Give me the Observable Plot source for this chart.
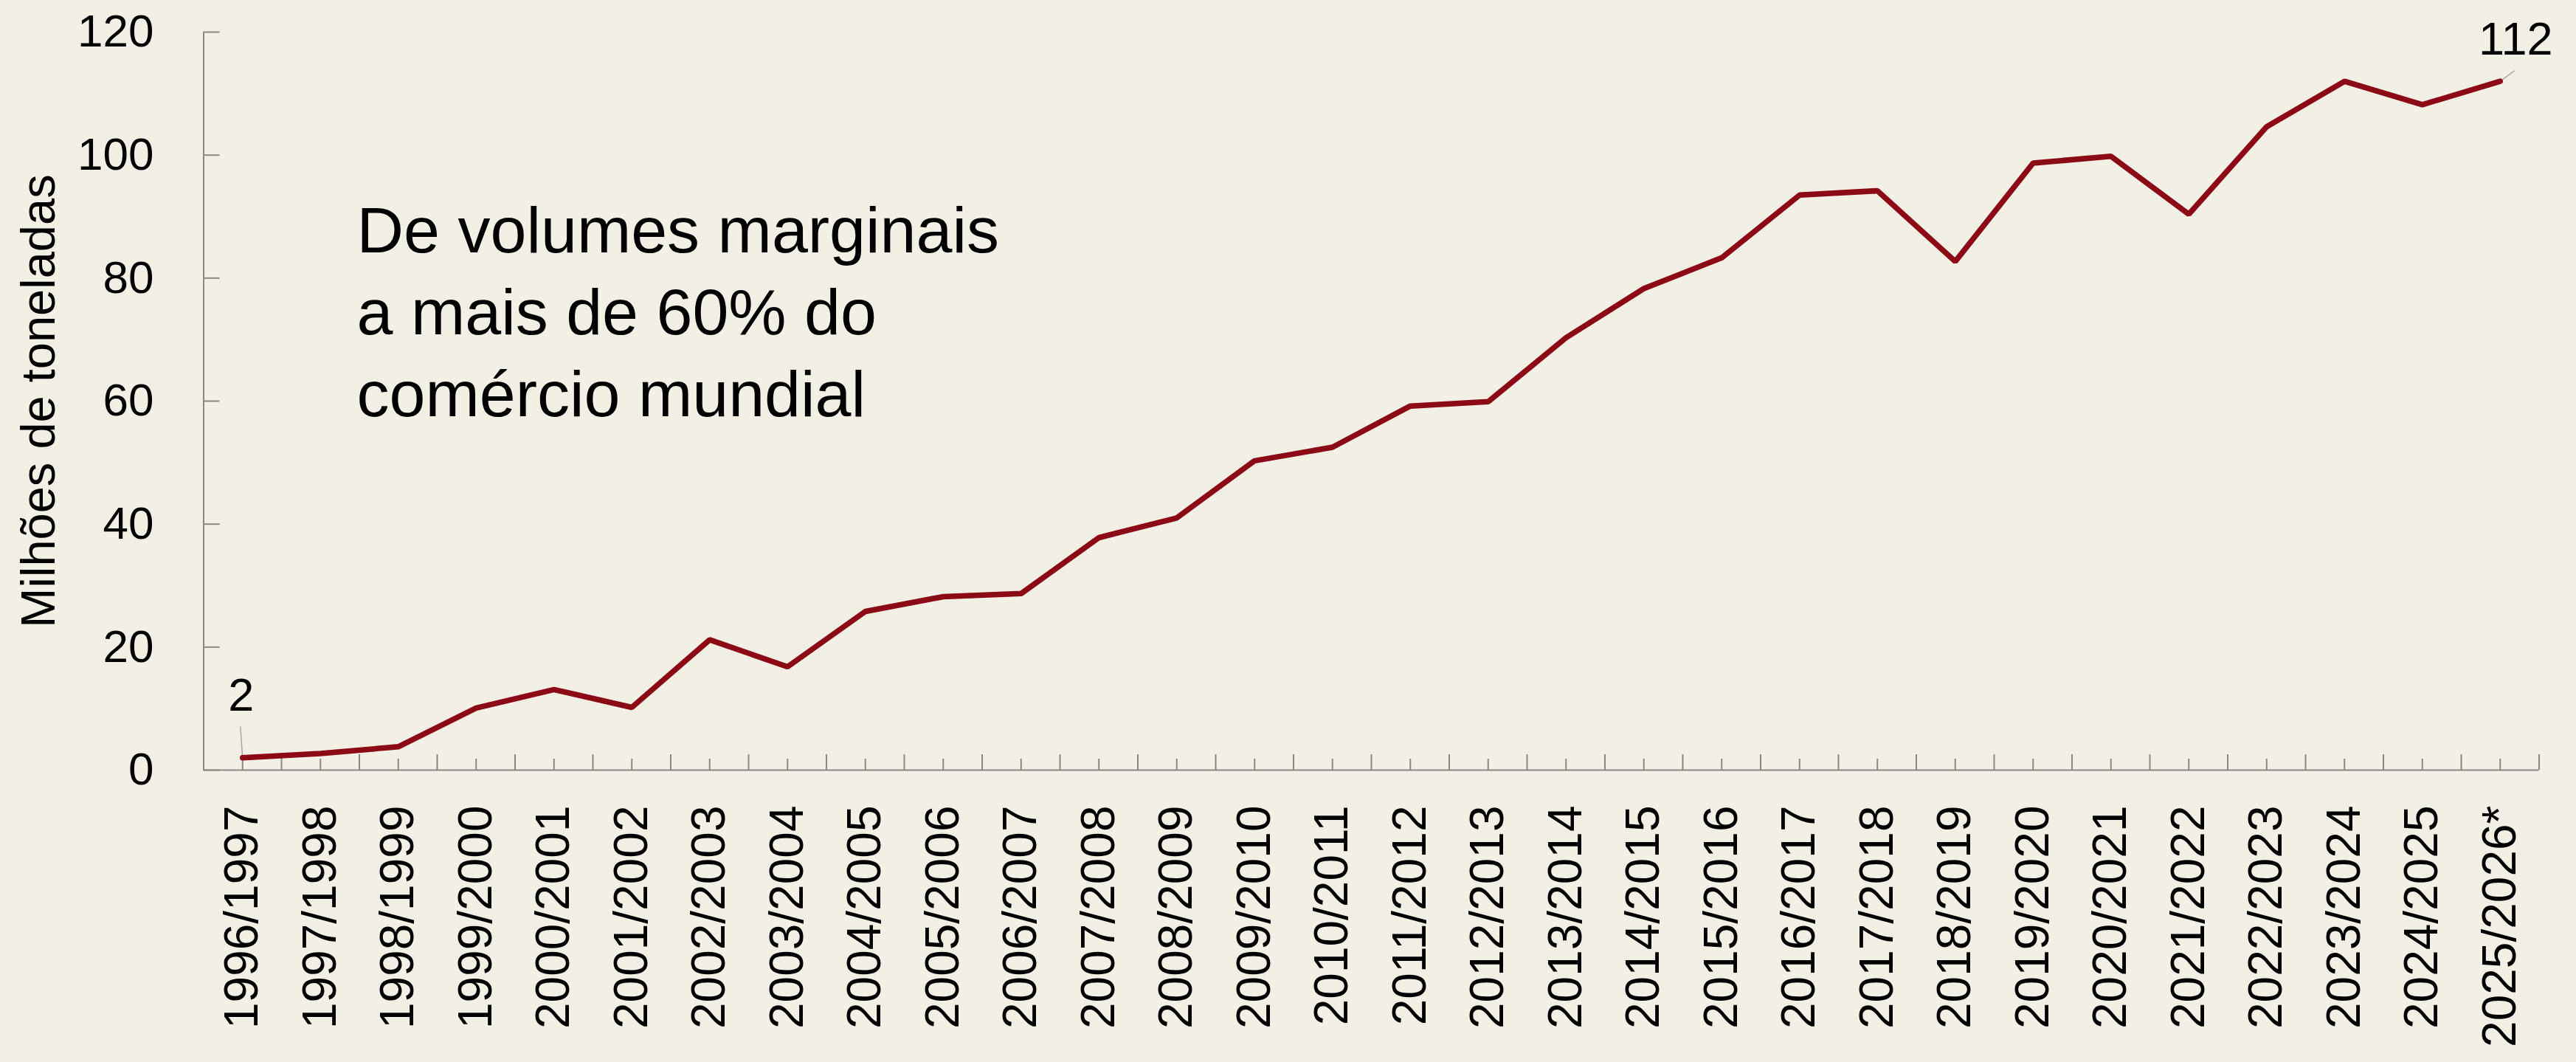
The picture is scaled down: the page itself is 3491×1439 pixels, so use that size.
<!DOCTYPE html>
<html>
<head>
<meta charset="utf-8">
<script src="https://cdn.jsdelivr.net/npm/d3@7"></script>
<script src="https://cdn.jsdelivr.net/npm/@observablehq/plot@0.6"></script>
<style>
  html, body { margin: 0; padding: 0; background: #F2F0E5; }
  #chart svg { display: block; }
</style>
</head>
<body>
<div id="chart"></div>
<script>
// ---- Data ----
const seasons = [
  "1996/1997", "1997/1998", "1998/1999", "1999/2000", "2000/2001",
  "2001/2002", "2002/2003", "2003/2004", "2004/2005", "2005/2006",
  "2006/2007", "2007/2008", "2008/2009", "2009/2010", "2010/2011",
  "2011/2012", "2012/2013", "2013/2014", "2014/2015", "2015/2016",
  "2016/2017", "2017/2018", "2018/2019", "2019/2020", "2020/2021",
  "2021/2022", "2022/2023", "2023/2024", "2024/2025", "2025/2026*"
];
const values = [
  2.0, 2.7, 3.8, 10.1, 13.1,
  10.2, 21.2, 16.8, 25.8, 28.2,
  28.7, 37.8, 41.0, 50.3, 52.5,
  59.2, 59.9, 70.3, 78.3, 83.3,
  93.5, 94.2, 82.7, 98.7, 99.8,
  90.4, 104.6, 112.0, 108.2, 112.0
];
const yTicks = [0, 20, 40, 60, 80, 100, 120];
const yLabel = "Milhões de toneladas";
const annotationLines = ["De volumes marginais", "a mais de 60% do", "comércio mundial"];
const firstLabeled = [0];
const lastLabeled = [seasons.length - 1];

// ---- Derived structures ----
const idx = d3.range(seasons.length);
const bounds = d3.range(seasons.length + 1).map(i => i - 0.5);
const data = idx.map(i => ({i, season: seasons[i], value: values[i]}));
const fmt = d3.format(".0f");

const font = "'Liberation Sans', Arial, Helvetica, sans-serif";
const axisGray = "#888888";
const lineRed = "#8C0A16";
const leaderGray = "#A6A6A6";

const chart = Plot.plot({
  width: 3491,
  height: 1439,
  marginTop: 43,
  marginBottom: 396,
  marginLeft: 275.5,
  marginRight: 50.5,
  style: {background: "#F2F0E5", fontFamily: font, color: "#000"},
  x: {type: "linear", domain: [bounds[0], bounds[bounds.length - 1]]},
  y: {domain: [0, 120]},
  marks: [
    // y axis: labels and inward ticks
    Plot.axisY({ticks: yTicks, tickSize: 0, tickPadding: 67.5, fontSize: 62, label: null}),
    Plot.axisY({ticks: yTicks, tickSize: -22, fill: "none", stroke: axisGray, strokeWidth: 2, label: null}),
    // x axis: rotated labels, short ticks at categories, long ticks at boundaries
    Plot.axisX({ticks: idx, tickFormat: i => seasons[i], tickRotate: -90, tickSize: 0, tickPadding: 48, fontSize: 64, label: null}),
    Plot.axisX({ticks: idx, tickSize: -15, fill: "none", stroke: axisGray, strokeWidth: 2, label: null}),
    Plot.axisX({ticks: bounds, tickSize: -21, fill: "none", stroke: axisGray, strokeWidth: 2, label: null}),
    // axis lines
    Plot.ruleX([bounds[0]], {stroke: axisGray, strokeWidth: 2}),
    Plot.ruleY([0], {stroke: axisGray, strokeWidth: 2}),
    // y-axis title
    Plot.text([yLabel], {frameAnchor: "left", rotate: -90, dx: -202.5, lineAnchor: "bottom", textAnchor: "middle", fontSize: 65, fill: "#000"}),
    // annotation
    Plot.text([annotationLines.join("\n")], {frameAnchor: "top-left", dx: 207.5, dy: 520.3, lineAnchor: "bottom", textAnchor: "start", fontSize: 88, lineHeight: 1.26, fill: "#000"}),
    // leader lines for labels
    Plot.vector(firstLabeled, {x: i => i, y: i => values[i], length: 42, rotate: -4, anchor: "start", shape: "spike", r: 0, fill: "none", stroke: leaderGray, strokeWidth: 1.5}),
    Plot.vector(lastLabeled, {x: i => i, y: i => values[i], length: 23.6, rotate: 53.6, anchor: "start", shape: "spike", r: 0, fill: "none", stroke: leaderGray, strokeWidth: 1.5}),
    // the series
    Plot.line(data, {x: "i", y: "value", stroke: lineRed, strokeWidth: 7.5, strokeLinecap: "round", strokeLinejoin: "miter"}),
    // end labels
    Plot.text(firstLabeled, {x: i => i, y: i => values[i], text: i => fmt(values[i]), dx: -2, dy: -64, lineAnchor: "bottom", textAnchor: "middle", fontSize: 63, fill: "#000"}),
    Plot.text(lastLabeled, {x: i => i, y: i => values[i], text: i => fmt(values[i]), dx: 21, dy: -36.6, lineAnchor: "bottom", textAnchor: "middle", fontSize: 63, fill: "#000"})
  ]
});

document.getElementById("chart").appendChild(chart);
</script>
</body>
</html>
